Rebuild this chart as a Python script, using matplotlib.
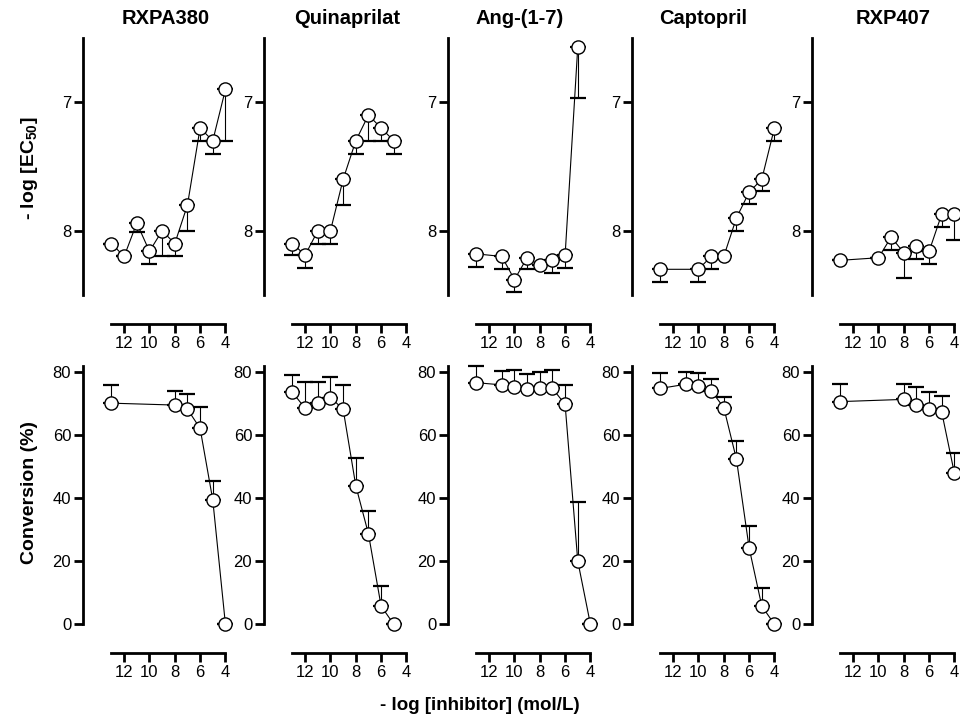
import numpy as np
import matplotlib
matplotlib.use("Agg")
import matplotlib.pyplot as plt

plt.rcParams["font.family"] = ["Liberation Sans", "DejaVu Sans"]
plt.rcParams["mathtext.fontset"] = "custom"
plt.rcParams["mathtext.rm"] = "Liberation Sans"
plt.rcParams["mathtext.bf"] = "Liberation Sans:bold"

titles = ["RXPA380", "Quinaprilat", "Ang-(1-7)", "Captopril", "RXP407"]

# top row: log EC50 (axis inverted), one-sided error
top_x = [
    [13, 12, 11, 10, 9, 8, 7, 6, 5, 4],
    [13, 12, 11, 10, 9, 8, 7, 6, 5],
    [13, 11, 10, 9, 8, 7, 6, 5],
    [13, 10, 9, 8, 7, 6, 5, 4],
    [13, 10, 9, 8, 7, 6, 5, 4],
]
top_y = [
    [8.10, 8.20, 7.94, 8.16, 8.00, 8.10, 7.80, 7.20, 7.30, 6.90],
    [8.10, 8.19, 8.00, 8.00, 7.60, 7.30, 7.10, 7.20, 7.30],
    [8.18, 8.20, 8.38, 8.21, 8.27, 8.23, 8.19, 6.57],
    [8.30, 8.30, 8.20, 8.20, 7.90, 7.70, 7.60, 7.20],
    [8.23, 8.21, 8.05, 8.17, 8.12, 8.16, 7.87, 7.87],
]
top_err = [
    [0, 0, 0.07, 0.10, 0.20, 0.10, 0.20, 0.10, 0.10, 0.40],
    [0.09, 0.10, 0.10, 0.10, 0.20, 0.10, 0.20, 0.10, 0.10],
    [0.10, 0.10, 0.10, 0.09, 0, 0.10, 0.10, 0.40],
    [0.10, 0.10, 0.10, 0, 0.10, 0.09, 0.09, 0.10],
    [0, 0, 0.10, 0.20, 0.10, 0.10, 0.10, 0.20],
]

# bottom row: conversion (%)
bot_x = [
    [13, 8, 7, 6, 5, 4],
    [13, 12, 11, 10, 9, 8, 7, 6, 5],
    [13, 11, 10, 9, 8, 7, 6, 5, 4],
    [13, 11, 10, 9, 8, 7, 6, 5, 4],
    [13, 8, 7, 6, 5, 4],
]
bot_y = [
    [70.2, 69.6, 68.3, 62.2, 39.5, 0],
    [73.6, 68.6, 70.4, 72.0, 68.3, 44.0, 28.7, 5.8, 0],
    [76.7, 76.0, 75.2, 74.6, 74.9, 74.9, 69.8, 20.1, 0],
    [74.9, 76.2, 75.8, 74.2, 68.8, 52.4, 24.3, 5.8, 0],
    [70.7, 71.4, 69.6, 68.3, 67.3, 47.9],
]
bot_err = [
    [5.8, 4.5, 4.8, 6.7, 6.1, 0],
    [5.6, 8.2, 6.4, 6.4, 7.7, 8.7, 7.4, 6.4, 0],
    [5.3, 4.4, 5.5, 4.9, 5.1, 5.8, 6.2, 18.8, 0],
    [4.8, 4.0, 3.9, 3.7, 3.5, 5.9, 7.0, 5.6, 0],
    [5.6, 4.9, 5.6, 5.4, 5.3, 6.4],
]

xticks = [12, 10, 8, 6, 4]

W, H = 960, 727
fig = plt.figure(figsize=(W / 100, H / 100), dpi=100)

spine_x = [83, 264, 448, 632, 812]
px_per_unit = 12.66
xlim = (15.25, 3.5)
ax_w = (xlim[0] - xlim[1]) * px_per_unit


def style_axis(ax):
    for s in ["top", "right"]:
        ax.spines[s].set_visible(False)
    ax.spines["left"].set_linewidth(2.0)
    ax.spines["bottom"].set_linewidth(2.0)
    ax.spines["bottom"].set_position(("outward", 21))
    ax.spines["bottom"].set_bounds(13, 4)
    ax.set_xlim(*xlim)
    ax.set_xticks(xticks)
    ax.tick_params(direction="out", length=6.5, width=2.0, labelsize=12, pad=2)
    ax.patch.set_alpha(0)


def draw(ax, x, y, err):
    x = np.array(x, float)
    y = np.array(y, float)
    err = np.array(err, float)
    ax.errorbar(x, y, yerr=[np.zeros_like(err), err], fmt="none", ecolor="black",
                elinewidth=0.8, capsize=5.5, capthick=1.6, clip_on=False, zorder=2)
    ax.plot(x, y, "-o", color="black", lw=0.8, markersize=9.5, markerfacecolor="white",
            markeredgecolor="black", markeredgewidth=1.0, clip_on=False, zorder=3)


for i in range(5):
    # top
    ax = fig.add_axes([spine_x[i] / W, 1 - 295 / H, ax_w / W, (295 - 38) / H])
    style_axis(ax)
    draw(ax, top_x[i], top_y[i], top_err[i])
    ax.set_ylim(8.5, 6.5)
    ax.set_yticks([7, 8])

    # bottom
    ax = fig.add_axes([spine_x[i] / W, 1 - 624.3 / H, ax_w / W, (624.3 - 366) / H])
    style_axis(ax)
    draw(ax, bot_x[i], bot_y[i], bot_err[i])
    ax.set_ylim(0, 82)
    ax.set_yticks([0, 20, 40, 60, 80])

title_x = [166, 347, 520, 703, 893]
for t, tx in zip(titles, title_x):
    fig.text(tx / W, 1 - 18 / H, t, ha="center", va="center", fontsize=14.5, fontweight="bold")

fig.text(30 / W, 1 - 168 / H, r"- log [EC$_{\mathbf{50}}$]", rotation=90, ha="center",
         va="center", fontsize=14, fontweight="bold")
fig.text(30 / W, 1 - 492 / H, "Conversion (%)", rotation=90, ha="center",
         va="center", fontsize=14, fontweight="bold")
fig.text(480 / W, 1 - 705 / H, "- log [inhibitor] (mol/L)", ha="center",
         va="center", fontsize=13.5, fontweight="bold")

fig.savefig("out.png", dpi=100)
